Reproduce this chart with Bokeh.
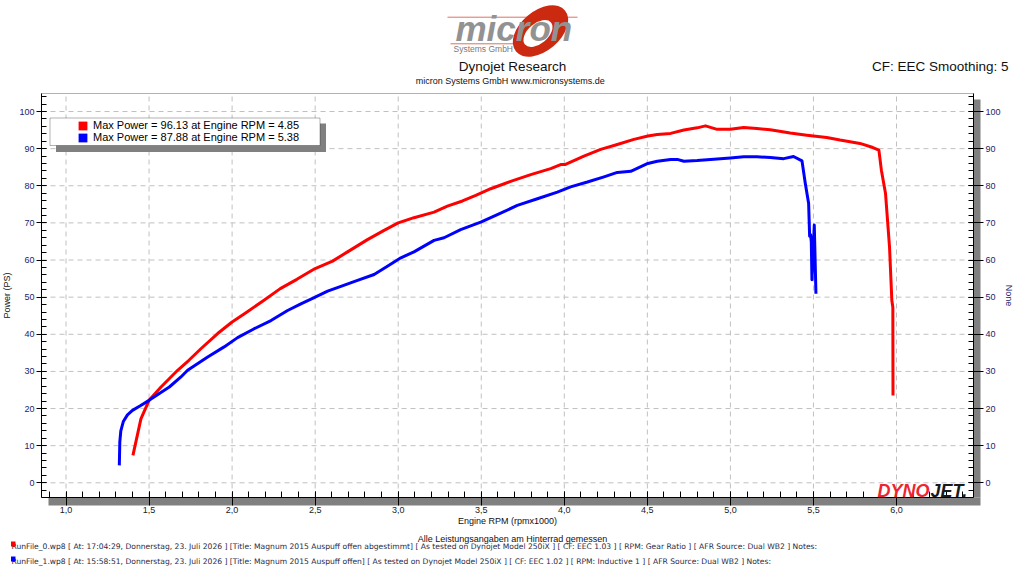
import numpy as np
from bokeh.plotting import figure
from bokeh.models import (Range1d, LinearAxis, BoxAnnotation, Label, Legend, LegendItem,
                          CustomJSTickFormatter, SingleIntervalTicker)
from bokeh.embed import file_html
from bokeh.resources import INLINE

# ---------------- data ----------------
rpm_run0 = [1.403, 1.451, 1.500, 1.572, 1.672, 1.740, 1.812, 1.913, 2.000, 2.090,
            2.190, 2.290, 2.390, 2.500, 2.605, 2.695, 2.815, 2.915, 3.000, 3.095,
            3.216, 3.296, 3.387, 3.467, 3.557, 3.677, 3.798, 3.918, 3.978, 4.004,
            4.118, 4.219, 4.319, 4.419, 4.503, 4.560, 4.640, 4.720, 4.800, 4.850,
            4.920, 5.000, 5.080, 5.160, 5.240, 5.360, 5.460, 5.580, 5.660, 5.780,
            5.858, 5.894, 5.909, 5.934, 5.958, 5.972, 5.978, 5.979]
power_run0 = [7.4, 17.2, 22.2, 25.8, 30.3, 33.0, 36.1, 40.2, 43.3, 46.0,
              49.1, 52.3, 54.8, 57.7, 59.7, 62.2, 65.5, 68.0, 70.0, 71.4,
              72.9, 74.5, 75.9, 77.4, 79.2, 81.2, 83.0, 84.6, 85.7, 85.7,
              88.0, 89.8, 91.1, 92.5, 93.4, 93.8, 94.1, 95.0, 95.6, 96.13,
              95.2, 95.2, 95.7, 95.4, 95.1, 94.2, 93.6, 93.0, 92.3, 91.4,
              90.3, 89.6, 84.2, 77.9, 63.5, 49.1, 47.3, 23.5]

rpm_run1 = [1.321, 1.324, 1.330, 1.345, 1.370, 1.400, 1.450, 1.500, 1.622, 1.692,
            1.732, 1.853, 1.952, 2.033, 2.133, 2.234, 2.334, 2.414, 2.494, 2.575,
            2.655, 2.755, 2.855, 2.935, 3.016, 3.095, 3.216, 3.276, 3.376, 3.497,
            3.597, 3.717, 3.838, 3.958, 4.038, 4.139, 4.239, 4.319, 4.400, 4.503,
            4.560, 4.640, 4.680, 4.720, 4.800, 4.880, 5.000, 5.080, 5.160, 5.240,
            5.321, 5.380, 5.431, 5.451, 5.471, 5.477, 5.483, 5.487, 5.491, 5.505,
            5.515]
power_run1 = [4.7, 11.0, 14.0, 16.5, 18.3, 19.5, 20.8, 22.2, 25.8, 28.5,
              30.3, 33.9, 36.6, 39.1, 41.5, 43.7, 46.4, 48.2, 49.9, 51.6,
              52.9, 54.5, 56.1, 58.3, 60.6, 62.2, 65.3, 66.0, 68.2, 70.2,
              72.2, 74.7, 76.5, 78.3, 79.7, 81.0, 82.4, 83.6, 83.9, 86.0,
              86.6, 87.1, 87.1, 86.6, 86.8, 87.1, 87.5, 87.8, 87.8, 87.6,
              87.3, 87.88, 86.7, 80.6, 75.2, 66.4, 66.8, 64.9, 54.7, 69.4,
              50.9]

x_ticks = [1.0, 1.5, 2.0, 2.5, 3.0, 3.5, 4.0, 4.5, 5.0, 5.5, 6.0]
y_ticks = [0, 10, 20, 30, 40, 50, 60, 70, 80, 90, 100]

run_colors = ["#ff0000", "#0000ff"]
footer_lines = [
    "RunFile_0.wp8 [ At:  17:04:29, Donnerstag, 23. Juli 2026  ] [Title:  Magnum  2015  Auspuff  offen  abgestimmt]   [ As tested on Dynojet Model 250iX  ] [ CF:  EEC  1.03  ] [ RPM:  Gear  Ratio  ] [ AFR  Source:  Dual  WB2  ] Notes:",
    "RunFile_1.wp8 [ At:  15:58:51, Donnerstag, 23. Juli 2026  ] [Title:  Magnum  2015  Auspuff  offen]   [ As tested on Dynojet Model 250iX  ] [ CF:  EEC  1.02  ] [ RPM:  Inductive  1  ] [ AFR  Source:  Dual  WB2  ] Notes:",
]

FONT = "Liberation Sans"
NAVY = "#23236b"
TXT = "#111111"

# ---------------- geometry: page pixel <-> data ----------------
W, H = 1024, 576
FL, FR, FT, FB = 41.0, 973.0, 93.0, 497.0      # plot area on the page
PX_PER_X, PX_PER_Y = 166.1, 3.713


def dx(px):
    return 1.0 + (px - 65.5) / PX_PER_X


def dy(py):
    return (482.3 - py) / PX_PER_Y


p = figure(width=W, height=H, x_range=Range1d(dx(0), dx(W)), y_range=Range1d(dy(H), dy(0)),
           x_axis_type=None, y_axis_type=None, toolbar_location=None, output_backend="svg",
           min_border=0, title=None, outline_line_color=None,
           background_fill_color="white", border_fill_color="white")
p.grid.visible = False

# ---------------- shadow + plot area frame ----------------
p.add_layout(BoxAnnotation(left=dx(48), right=dx(980), top=dy(FB), bottom=dy(505),
                           fill_color="#808080", fill_alpha=1, line_color=None, level="underlay"))
p.add_layout(BoxAnnotation(left=dx(FR), right=dx(980), top=dy(99), bottom=dy(FB),
                           fill_color="#808080", fill_alpha=1, line_color=None, level="underlay"))
p.add_layout(BoxAnnotation(left=dx(FL), right=dx(FR), top=dy(FT), bottom=dy(FB),
                           fill_color="white", fill_alpha=1, line_color="black", line_width=1,
                           level="underlay"))

# ---------------- grid (dashed) ----------------
p.segment(x0=x_ticks, y0=[dy(FB)] * len(x_ticks), x1=x_ticks, y1=[dy(FT)] * len(x_ticks),
          line_color="#c0c0c0", line_dash="5 4", line_width=1)
p.segment(x0=[dx(FL)] * len(y_ticks), y0=y_ticks, x1=[dx(FR)] * len(y_ticks), y1=y_ticks,
          line_color="#c0c0c0", line_dash="5 4", line_width=1)

# ---------------- axes ----------------
xa = LinearAxis(fixed_location=dy(FB), bounds=(dx(FL), dx(FR)),
                ticker=SingleIntervalTicker(interval=0.5, num_minor_ticks=5),
                formatter=CustomJSTickFormatter(code="return tick.toFixed(1).replace('.', ',');"),
                axis_label="Engine RPM (rpmx1000)")
xa.major_tick_in = 6
xa.major_tick_out = 8
xa.minor_tick_in = 6
xa.minor_tick_out = 0
xa.major_label_standoff = 1
xa.axis_label_standoff = 0
xa.major_label_text_color = "#1a1a1a"
xa.axis_label_text_color = TXT
p.add_layout(xa, "below")

ya = LinearAxis(fixed_location=dx(FL), bounds=(dy(FB), dy(FT)),
                ticker=SingleIntervalTicker(interval=10, num_minor_ticks=5),
                axis_label="Power (PS)")
ya.major_tick_in = 5
ya.major_tick_out = 5
ya.minor_tick_in = 5
ya.minor_tick_out = 0
ya.major_label_standoff = 2
ya.axis_label_standoff = 4
ya.major_label_text_color = NAVY
ya.axis_label_text_color = TXT
p.add_layout(ya, "left")

ra = LinearAxis(fixed_location=dx(FR), bounds=(dy(FB), dy(FT)),
                ticker=SingleIntervalTicker(interval=10, num_minor_ticks=5),
                axis_label="None")
ra.major_tick_in = 5
ra.major_tick_out = 10
ra.minor_tick_in = 5
ra.minor_tick_out = 0
ra.major_label_standoff = 2
ra.axis_label_standoff = 0
ra.major_label_text_color = NAVY
ra.axis_label_text_color = NAVY
p.add_layout(ra, "right")

for ax in (xa, ya, ra):
    ax.axis_line_color = "black"
    ax.major_tick_line_color = "black"
    ax.minor_tick_line_color = "black"
    ax.major_label_text_font = FONT
    ax.major_label_text_font_size = "9px"
    ax.axis_label_text_font = FONT
    ax.axis_label_text_font_size = "9px"
    ax.axis_label_text_font_style = "normal"

# ---------------- curves ----------------
p.line(rpm_run0, power_run0, line_color=run_colors[0], line_width=3, line_join="round")
p.line(rpm_run1, power_run1, line_color=run_colors[1], line_width=3, line_join="round")

# ---------------- legend (max power) ----------------
items = []
for rpm, pw, col in ((rpm_run0, power_run0, run_colors[0]), (rpm_run1, power_run1, run_colors[1])):
    i = int(np.argmax(pw))
    sw = p.rect(x=[rpm[i]], y=[pw[i]], width=0, height=0, fill_color=col, line_color=None)
    items.append(LegendItem(label=f"Max Power = {pw[i]:.2f} at Engine RPM = {rpm[i]:.2f}",
                            renderers=[sw]))

p.add_layout(BoxAnnotation(left=dx(55.5), right=dx(325.5), top=dy(123), bottom=dy(151.5),
                           fill_color="#808080", fill_alpha=1, line_color=None))
p.add_layout(BoxAnnotation(left=dx(49.5), right=dx(319.5), top=dy(117.5), bottom=dy(145),
                           fill_color="white", fill_alpha=1, line_color="black", line_width=1))
leg = Legend(items=items, location=(77, H - 143), orientation="vertical", padding=0, spacing=0,
             margin=0, glyph_width=11, glyph_height=11, label_height=12, label_standoff=5,
             label_text_font=FONT, label_text_font_size="11px", label_text_color="black",
             border_line_color=None, background_fill_alpha=0)
p.add_layout(leg)


def add_label(px, py, text, size, color=TXT, align="left", baseline="middle",
              angle=0.0, style="normal", font=FONT):
    p.add_layout(Label(x=dx(px), y=dy(py), text=text, text_font=font,
                       text_font_size=f"{size}px", text_font_style=style,
                       text_color=color, text_align=align, text_baseline=baseline,
                       angle=angle))


# ---------------- header: micron logo ----------------
p.segment(x0=[dx(447), dx(450)], y0=[dy(16.7), dy(43.3)], x1=[dx(577), dx(523)],
          y1=[dy(16.7), dy(43.3)], line_color="#e07060", line_width=1)
p.ellipse(x=[dx(540)], y=[dy(30.5)], width=[64 / PX_PER_X], height=[40 / PX_PER_Y],
          angle=[0.7], fill_color="#cc2a10", line_color=None)
p.ellipse(x=[dx(537.5)], y=[dy(33)], width=[34 / PX_PER_X], height=[20 / PX_PER_Y],
          angle=[0.7], fill_color="white", line_color=None)
add_label(455, 28, "micron", 35, color="#929292", style="bold italic")
add_label(453, 48.5, "Systems GmbH", 8.5, color="#7a7a7a")

add_label(512, 66, "Dynojet Research", 13.5, align="center")
add_label(511, 80, "micron Systems GmbH  www.micronsystems.de", 9, align="center")
add_label(1008, 66, "CF: EEC Smoothing: 5", 13.5, align="right")

# ---------------- DYNOJET logo ----------------
add_label(877, 490, "DYNO", 18, color="#ee2530", style="bold italic")
add_label(930, 490, "JET.", 18, color="#1a1a1a", style="bold italic")

# ---------------- footer ----------------
add_label(512, 538, "Alle Leistungsangaben am Hinterrad gemessen", 9, align="center")
for k, (txt, col) in enumerate(zip(footer_lines, run_colors)):
    yy = 546 + 15 * k
    add_label(11, yy, txt, 7.6, color="#2a2a44", font="DejaVu Sans")
    p.add_layout(BoxAnnotation(left=dx(10.5), right=dx(15), top=dy(yy - 5), bottom=dy(yy),
                               fill_color=col, fill_alpha=1, line_color=None))

open("out.html", "w").write(file_html(p, INLINE))
